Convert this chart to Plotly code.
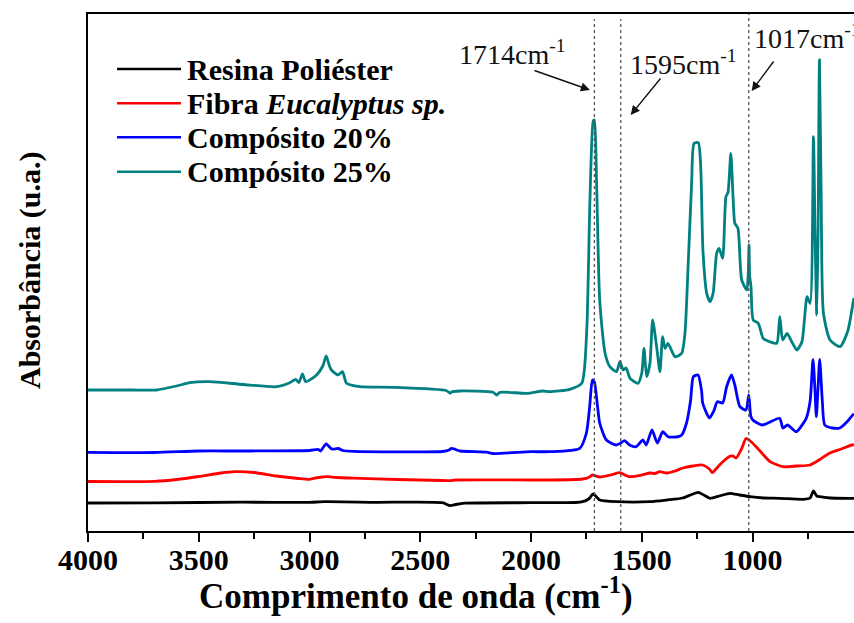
import plotly.graph_objects as go

# FTIR absorbance spectra (arbitrary units, curves offset vertically)
series_names = ["Resina Poliéster", "Fibra <i>Eucalyptus sp.</i>", "Compósito 20%", "Compósito 25%"]
series_colors = ["#000000", "#ff0000", "#0000ff", "#008080"]

resina_wn = [4000, 3700, 3300, 3000, 2930, 2700, 2400, 2365, 2340, 2300, 2000, 1800, 1767, 1740,
             1719, 1700, 1690, 1614, 1463, 1387, 1315, 1280, 1246, 1220, 1192, 1150, 1102, 1060,
             1012, 950, 877, 771, 740, 725, 710, 697, 650, 560, 542]
resina_abs = [28.0, 28.2, 28.8, 28.7, 29.3, 28.7, 28.3, 25.3, 26.5, 27.8, 28.3, 28.5, 29.3, 32.0,
              37.0, 33.0, 31.0, 29.3, 29.3, 31.0, 33.0, 36.0, 38.7, 36.0, 32.7, 35.0, 37.7, 36.0,
              34.3, 33.0, 32.7, 31.7, 33.0, 40.0, 35.0, 34.3, 33.0, 32.7, 32.7]

fibra_wn = [4000, 3700, 3600, 3500, 3400, 3337, 3250, 3150, 3050, 3000, 2960, 2920, 2880, 2800,
            2600, 2400, 2366, 2340, 2000, 1916, 1767, 1740, 1723, 1700, 1690, 1640, 1600, 1585,
            1555, 1500, 1463, 1440, 1419, 1387, 1350, 1315, 1270, 1225, 1195, 1181, 1165, 1149,
            1120, 1106, 1090, 1074, 1050, 1029, 1010, 984, 950, 921, 863, 800, 741, 700, 651,
            600, 552, 542]
fibra_abs = [49.5, 49.7, 51.5, 54.5, 58.0, 59.3, 58.5, 55.0, 52.5, 51.7, 53.5, 54.3, 53.5, 52.8,
             51.5, 50.5, 50.3, 51.0, 51.0, 51.0, 52.0, 53.5, 56.0, 54.5, 54.0, 56.0, 58.3, 57.0,
             54.3, 56.0, 58.0, 57.5, 59.3, 58.0, 60.0, 63.0, 65.0, 66.0, 62.0, 58.3, 62.0, 66.0,
             72.0, 74.3, 75.0, 73.0, 82.0, 92.7, 90.0, 84.3, 76.0, 69.3, 64.3, 65.0, 66.0, 71.0,
             78.0, 82.0, 86.0, 86.0]

comp20_wn = [4000, 3700, 3500, 3300, 3000, 2960, 2950, 2925, 2900, 2870, 2850, 2800, 2400, 2370,
             2359, 2340, 2320, 2200, 2172, 2000, 1916, 1780, 1750, 1735, 1723, 1714, 1700, 1690,
             1660, 1615, 1595, 1578, 1555, 1525, 1495, 1480, 1454, 1430, 1405, 1382, 1343, 1320,
             1298, 1280, 1267, 1246, 1230, 1225, 1195, 1175, 1159, 1135, 1117, 1095, 1080, 1057,
             1030, 1017, 1008, 999, 954, 878, 863, 842, 802, 770, 757, 740, 727, 718, 712, 705,
             697, 685, 674, 640, 606, 570, 548, 542]
comp20_abs = [78.7, 78.5, 80.0, 80.0, 80.5, 81.5, 80.0, 87.0, 82.0, 82.5, 80.5, 79.7, 79.5, 81.0,
              82.7, 81.5, 80.0, 78.8, 77.5, 79.3, 79.3, 82.7, 98.0, 125.0, 151.0, 149.0, 125.0, 108.0,
              91.0, 86.0, 88.0, 90.3, 86.0, 84.3, 91.0, 86.0, 101.0, 88.0, 99.3, 94.3, 94.0, 96.0,
              108.0, 130.0, 154.3, 156.0, 140.0, 128.0, 113.0, 120.0, 129.3, 128.0, 144.3, 156.0, 146.0, 124.3,
              121.0, 136.0, 115.0, 111.0, 106.0, 112.7, 103.0, 106.0, 99.3, 108.0, 113.0, 130.0, 171.7, 140.0, 114.3, 140.0,
              171.7, 130.0, 106.0, 103.0, 103.0, 110.0, 116.0, 117.0]

comp25_wn = [4000, 3800, 3691, 3600, 3541, 3450, 3300, 3149, 3089, 3062, 3048, 3032, 3017, 2968,
             2940, 2925, 2910, 2901, 2872, 2851, 2833, 2773, 2624, 2381, 2365, 2359, 2321, 2172,
             2155, 2140, 2019, 1946, 1916, 1825, 1771, 1749, 1734, 1719, 1714, 1704, 1690, 1666,
             1644, 1614, 1599, 1584, 1571, 1553, 1517, 1500, 1490, 1478, 1463, 1451, 1433, 1418,
             1406, 1395, 1382, 1350, 1320, 1305, 1291, 1275, 1264, 1245, 1234, 1224, 1207, 1192,
             1178, 1162, 1151, 1135, 1120, 1111, 1098, 1088, 1080, 1066, 1049, 1026, 1019, 1016,
             1013, 1007, 997, 974, 952, 922, 891, 877, 864, 844, 823, 800, 777, 754, 740, 725,
             718, 710, 704, 698, 690, 680, 650, 605, 570, 544, 542]
comp25_abs = [141.0, 141.0, 141.0, 145.0, 148.3, 149.3, 146.5, 144.3, 148.3, 151.7, 148.3, 157.0, 149.3, 156.0,
              165.0, 175.0, 165.0, 161.0, 156.0, 159.3, 147.7, 144.3, 143.7, 140.3, 137.7, 139.0, 140.0, 138.7,
              136.0, 138.7, 137.7, 140.0, 139.3, 141.7, 147.7, 198.0, 331.0, 410.3, 411.0, 348.0, 231.0, 178.0,
              164.3, 159.3, 169.3, 161.0, 163.0, 152.7, 147.7, 158.0, 182.7, 154.3, 168.0, 211.0, 184.3, 159.3,
              194.3, 182.7, 187.7, 174.3, 177.7, 198.0, 264.3, 347.7, 387.7, 388.3, 364.3, 281.0, 237.7, 229.3,
              237.7, 277.7, 282.7, 272.7, 334.3, 338.3, 377.7, 334.3, 307.7, 302.7, 251.0, 241.0, 260.0, 286.0,
              255.0, 244.3, 211.0, 207.7, 192.7, 189.3, 187.7, 214.3, 191.0, 197.7, 189.3, 181.0, 189.3, 234.3, 227.7, 394.3,
              300.0, 216.0, 300.0, 471.0, 330.0, 217.7, 191.0, 184.3, 200.0, 231.0, 233.0]

# Marked absorption bands (cm-1)
band_positions = [1714, 1595, 1017]
band_labels = ["1714cm<sup>-1</sup>", "1595cm<sup>-1</sup>", "1017cm<sup>-1</sup>"]

x_ticks = [4000, 3500, 3000, 2500, 2000, 1500, 1000]
x_minor = [3750, 3250, 2750, 2250, 1750, 1250, 750]

SERIF = "Liberation Serif"

fig = go.Figure()
all_series = [(resina_wn, resina_abs), (fibra_wn, fibra_abs), (comp20_wn, comp20_abs), (comp25_wn, comp25_abs)]
for (wn, ab), name, color in zip(all_series, series_names, series_colors):
    fig.add_trace(go.Scatter(x=wn, y=ab, mode="lines", name=name, showlegend=False,
                             line=dict(color=color, width=2.8, shape="spline", smoothing=0.6)))

shapes = []
# dotted guides at the marked bands
for b in band_positions:
    shapes.append(dict(type="line", xref="x", yref="paper", x0=b, x1=b, y0=0, y1=0.99 if b != 1017 else 1,
                       line=dict(color="#555555", width=1.3, dash="dot")))

# legend block: line samples + labels
legend_y = [0.8936, 0.8273, 0.7615, 0.695]
annotations = []
for yy, name, color in zip(legend_y, series_names, series_colors):
    shapes.append(dict(type="line", xref="paper", yref="paper", x0=0.0379, x1=0.1214, y0=yy, y1=yy,
                       line=dict(color=color, width=2.6)))
    annotations.append(dict(xref="paper", yref="paper", x=0.127, y=yy, xanchor="left", yanchor="middle",
                            text=f"<b>{name}</b>", showarrow=False,
                            font=dict(family=SERIF, size=30, color="black")))

# band labels with arrows
label_pos = [(457, 72), (628, 82), (752, 56)]
arrow_heads = [(1734, 441), (1550, 416), (1004, 440)]    # arrow tip in data coords
arrow_tails = [(-57, -20), (31, -38), (23, -31)]         # tail offsets in px
for (px, py), txt in zip(label_pos, band_labels):
    annotations.append(dict(xref="paper", yref="paper", x=(px - 88) / 766, y=(531 - py) / 517,
                            xanchor="left", yanchor="bottom", text=txt, showarrow=False,
                            font=dict(family=SERIF, size=28, color="#111111")))
for (hx, hy), (ax, ay) in zip(arrow_heads, arrow_tails):
    annotations.append(dict(x=hx, y=hy, xref="x", yref="y", ax=ax, ay=ay, text="", showarrow=True,
                            arrowhead=2, arrowsize=1.3, arrowwidth=1.4, arrowcolor="#111111"))

# axis titles
annotations.append(dict(xref="paper", yref="paper", x=(416 - 88) / 766, y=-0.12, xanchor="center",
                        yanchor="middle", showarrow=False,
                        text="<b>Comprimento de onda (cm<sup>-1</sup>)</b>",
                        font=dict(family=SERIF, size=35, color="black")))
annotations.append(dict(xref="paper", yref="paper", x=-(88 - 30) / 766, y=(531 - 270) / 517,
                        xanchor="center", yanchor="middle", showarrow=False, textangle=-90,
                        text="<b>Absorbância (u.a.)</b>",
                        font=dict(family=SERIF, size=30, color="black")))

fig.update_layout(
    width=854, height=623,
    margin=dict(l=88, r=0, t=14, b=92),
    paper_bgcolor="white", plot_bgcolor="white",
    shapes=shapes, annotations=annotations,
    xaxis=dict(range=[4000, 542], tickvals=x_ticks, ticktext=[f"<b>{t}</b>" for t in x_ticks],
               ticks="outside", ticklen=9, tickwidth=2, tickcolor="black", ticklabelstandoff=-8,
               minor=dict(tickvals=x_minor, ticks="outside", ticklen=6, tickwidth=2, tickcolor="black"),
               showline=True, linewidth=2, linecolor="black", mirror=True,
               showgrid=False, zeroline=False,
               tickfont=dict(family=SERIF, size=30, color="black")),
    yaxis=dict(range=[0, 517], showticklabels=False, ticks="", showline=True, linewidth=2,
               linecolor="black", mirror=False, showgrid=False, zeroline=False),
)

fig.write_html("out.html")
